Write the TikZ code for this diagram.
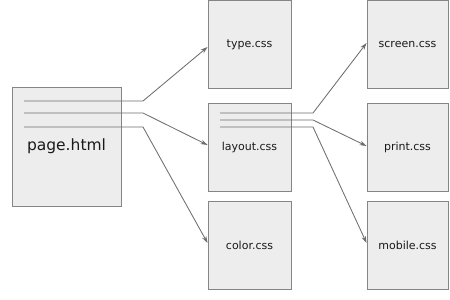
\documentclass[tikz,border=0pt]{standalone}
\usepackage{fontspec}
\setmainfont{DejaVu Sans}
\usetikzlibrary{arrows.meta}
\definecolor{boxgray}{HTML}{858585}
\definecolor{boxfill}{HTML}{EDEDED}
\definecolor{linegray}{HTML}{6E6E6E}
\begin{document}
\begin{tikzpicture}[x=1pt,y=-1pt,
  filebox/.style={draw=boxgray, fill=boxfill, line width=0.9pt, minimum width=83pt, minimum height=88pt, inner sep=0pt, font=\fontsize{11}{13}\selectfont, text=black!90},
  link/.style={draw=linegray, line width=0.85pt, -{Stealth[length=7pt,width=4.5pt]}},
]
\useasboundingbox (0,0) rectangle (450,300);
\fill[white] (0,0) rectangle (450,300);
\node[filebox, minimum width=109pt, minimum height=119pt, font=\fontsize{15.5}{18}\selectfont] (page) at (66.5,146.5) {page.html};
\node[filebox] (type) at (249.5,44.5) {type.css};
\node[filebox] (layout) at (249.5,147) {layout.css};
\node[filebox] (color) at (249.5,245.5) {color.css};
\node[filebox, minimum width=81pt] (screen) at (407.5,44.5) {screen.css};
\node[filebox, minimum width=81pt] (print) at (407.5,147) {print.css};
\node[filebox, minimum width=81pt] (mobile) at (407.5,245.5) {mobile.css};
\coordinate (p1) at (24,101);
\coordinate (p2) at (24,113);
\coordinate (p3) at (24,127);
\coordinate (l1) at (220,113);
\coordinate (l2) at (220,120);
\coordinate (l3) at (220,127);
\draw[link] (p1) -- ++(119,0) -- ([yshift=-2.5pt]type.west);
\draw[link] (p2) -- ++(119,0) -- ([yshift=2pt]layout.west);
\draw[link] (p3) -- ++(119,0) -- ([yshift=2.5pt]color.west);
\draw[link] (l1) -- ++(93,0) -- ([yshift=1.5pt]screen.west);
\draw[link] (l2) -- ++(93,0) -- ([yshift=1pt]print.west);
\draw[link] (l3) -- ++(93,0) -- ([yshift=2.5pt]mobile.west);
\end{tikzpicture}
\end{document}
